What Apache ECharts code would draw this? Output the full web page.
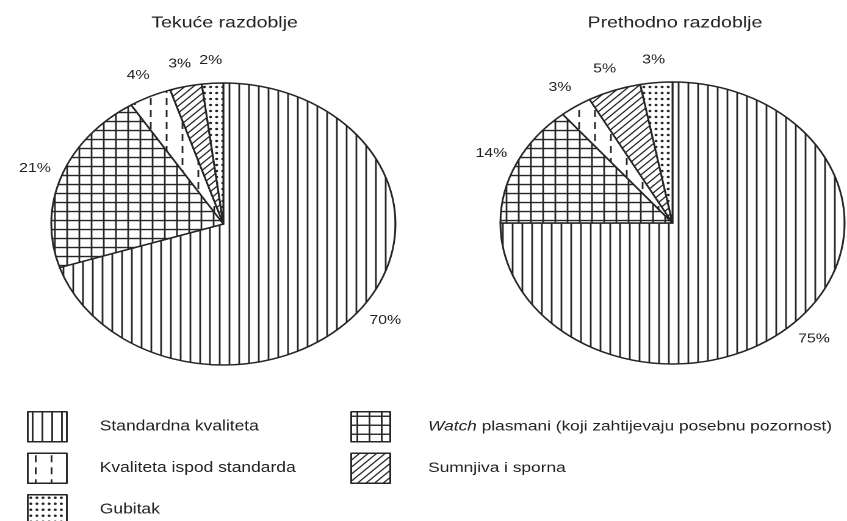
<!DOCTYPE html>
<html>
<head>
<meta charset="utf-8">
<script src="https://cdn.jsdelivr.net/npm/echarts@6/dist/echarts.min.js"></script>
<style>
html,body{margin:0;padding:0;background:#fff;overflow:hidden;}
#wrap{width:847px;height:521px;overflow:hidden;}
#chart{width:694px;height:521px;transform:scaleX(1.2205);transform-origin:0 0;}
</style>
</head>
<body>
<div id="wrap"><div id="chart"></div></div>
<script>
// ---- data ----
const categories = [
  'Standardna kvaliteta',
  'Watch plasmani (koji zahtijevaju posebnu pozornost)',
  'Kvaliteta ispod standarda',
  'Sumnjiva i sporna',
  'Gubitak'
];
const currentValues = [70, 21, 4, 3, 2];   // Tekuće razdoblje (%)
const previousValues = [75, 14, 3, 5, 3];  // Prethodno razdoblje (%)
const periodTitles = ['Tekuće razdoblje', 'Prethodno razdoblje'];
const legendLeftColumn = ['Standardna kvaliteta', 'Kvaliteta ispod standarda', 'Gubitak'];
const legendRightColumn = ['Watch plasmani (koji zahtijevaju posebnu pozornost)', 'Sumnjiva i sporna'];

// ---- hatch patterns (style only) ----
const INK = '#262626';
const FONT = 'Liberation Sans, Arial, sans-serif';
function tile(w, h, draw) {
  const c = document.createElement('canvas');
  c.width = w * 4; c.height = h * 4;
  const ctx = c.getContext('2d');
  ctx.scale(4, 4);
  ctx.fillStyle = '#ffffff';
  ctx.fillRect(0, 0, w, h);
  ctx.strokeStyle = INK; ctx.fillStyle = INK;
  draw(ctx);
  return c;
}
function pat(canvas) { return { image: canvas, repeat: 'repeat', scaleX: 0.25, scaleY: 0.25 }; }
const patterns = [
  // vertical lines
  tile(8, 8, ctx => { ctx.fillRect(3.3, 0, 1.4, 8); }),
  // grid
  tile(10, 9, ctx => { ctx.fillRect(4.3, 0, 1.4, 9); ctx.fillRect(0, 3.8, 10, 1.4); }),
  // vertical dashes
  tile(13, 12, ctx => { ctx.fillRect(5.8, 2, 1.4, 7); }),
  // diagonal /
  tile(7, 7, ctx => {
    ctx.lineWidth = 1.15;
    ctx.beginPath();
    ctx.moveTo(-1, 8); ctx.lineTo(8, -1);
    ctx.moveTo(-1, 1); ctx.lineTo(1, -1);
    ctx.moveTo(6, 8); ctx.lineTo(8, 6);
    ctx.stroke();
  }),
  // dots
  tile(5, 6, ctx => { ctx.beginPath(); ctx.arc(2.5, 3, 1.25, 0, Math.PI * 2); ctx.fill(); })
];

function buildData(values) {
  return categories.map((name, i) => ({
    name: name,
    value: values[i],
    itemStyle: { color: pat(patterns[i]) }
  }));
}

const chart = echarts.init(document.getElementById('chart'), null, { renderer: 'canvas', devicePixelRatio: 2 });

// place each percentage label centred on the slice's mid-angle, just outside the rim
function placeLabel(p) {
  try {
    const data = chart.getModel().getSeriesByIndex(p.seriesIndex).getData();
    const l = data.getItemLayout(p.dataIndex);
    const mid = (l.startAngle + l.endAngle) / 2;
    const rr = l.r + 23;
    return { x: l.cx + Math.cos(mid) * rr, y: l.cy + Math.sin(mid) * rr, align: 'center', verticalAlign: 'middle' };
  } catch (e) {
    return {};
  }
}

const pieCommon = {
  type: 'pie',
  radius: 141,
  startAngle: 90,
  clockwise: true,
  avoidLabelOverlap: false,
  itemStyle: { borderColor: INK, borderWidth: 1.5 },
  emphasis: { disabled: true },
  label: {
    show: true,
    position: 'outside',
    formatter: '{c}%',
    color: '#222',
    fontSize: 13,
    fontFamily: FONT
  },
  labelLine: { show: false, length: 8, length2: 0 },
  labelLayout: placeLabel
};

function legendText(size, padLeft) {
  return {
    color: '#222',
    fontSize: size,
    fontFamily: FONT,
    padding: [0, 0, 0, padLeft],
    rich: {
      i: { fontStyle: 'italic', fontSize: size, color: '#222', fontFamily: FONT },
      n: { fontSize: size, color: '#222', fontFamily: FONT }
    }
  };
}

const legendCommon = {
  orient: 'vertical',
  itemWidth: 32,
  itemHeight: 30,
  itemGap: 10,
  padding: 0,
  height: 130,
  selectedMode: false,
  icon: 'rect',
  itemStyle: { borderColor: INK, borderWidth: 1.5 },
  formatter: function (name) {
    if (name.indexOf('Watch') === 0) {
      return '{i|Watch}{n|' + name.slice(5) + '}';
    }
    return '{n|' + name + '}';
  }
};

chart.setOption({
  animation: false,
  backgroundColor: '#ffffff',
  title: [
    { text: periodTitles[0], left: 179, top: 10, textAlign: 'center',
      textStyle: { fontSize: 16, fontWeight: 'normal', color: '#222', fontFamily: FONT } },
    { text: periodTitles[1], left: 548, top: 10, textAlign: 'center',
      textStyle: { fontSize: 16, fontWeight: 'normal', color: '#222', fontFamily: FONT } }
  ],
  legend: [
    Object.assign({}, legendCommon, { data: legendLeftColumn, left: 22, top: 411, textStyle: legendText(14.3, 22) }),
    Object.assign({}, legendCommon, { data: legendRightColumn, left: 287, top: 411, textStyle: legendText(14.2, 26) })
  ],
  series: [
    Object.assign({}, pieCommon, { name: periodTitles[0], center: [183, 224], data: buildData(currentValues) }),
    Object.assign({}, pieCommon, { name: periodTitles[1], center: [551, 223], data: buildData(previousValues) })
  ]
});
</script>
</body>
</html>
